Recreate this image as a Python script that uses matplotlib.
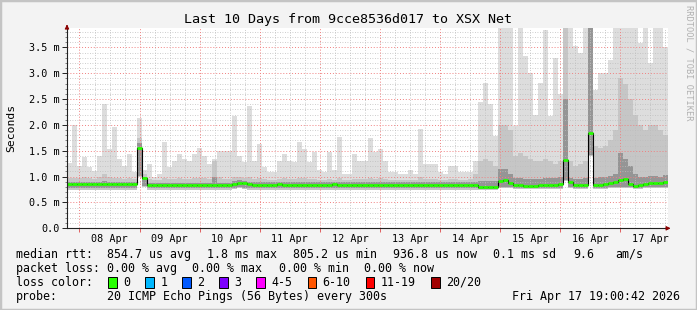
import numpy as np
import matplotlib
matplotlib.use('Agg')
import matplotlib.pyplot as plt
import matplotlib.dates as mdates
from matplotlib.patches import Rectangle

# ---------------- data ----------------
title = "Last 10 Days from 9cce8536d017 to XSX Net"
start = np.datetime64('2026-04-07T19:00:42')
end = np.datetime64('2026-04-17T19:00:42')
step_hours = 2  # 120 bins of 2 h

median_ms = [
    0.85, 0.85, 0.85, 0.85, 0.85, 0.85, 0.85, 0.85, 0.85, 0.85,
    0.85, 0.85, 0.85, 0.85, 1.56, 0.98, 0.83, 0.83, 0.83, 0.83,
    0.83, 0.83, 0.83, 0.83, 0.83, 0.83, 0.83, 0.83, 0.83, 0.83,
    0.83, 0.83, 0.83, 0.86, 0.88, 0.87, 0.85, 0.84, 0.84, 0.84,
    0.84, 0.84, 0.85, 0.84, 0.84, 0.84, 0.83, 0.84, 0.84, 0.84,
    0.84, 0.84, 0.84, 0.85, 0.84, 0.84, 0.84, 0.84, 0.84, 0.84,
    0.84, 0.84, 0.84, 0.84, 0.84, 0.84, 0.84, 0.84, 0.84, 0.84,
    0.84, 0.84, 0.84, 0.84, 0.84, 0.84, 0.84, 0.84, 0.84, 0.84,
    0.84, 0.84, 0.80, 0.80, 0.80, 0.80, 0.92, 0.93, 0.88, 0.83,
    0.83, 0.82, 0.82, 0.82, 0.83, 0.84, 0.84, 0.84, 0.85, 1.33,
    0.90, 0.83, 0.83, 0.83, 1.85, 0.83, 0.84, 0.85, 0.87, 0.90,
    0.94, 0.95, 0.86, 0.82, 0.84, 0.86, 0.88, 0.88, 0.87, 0.90,
]

smoke_max = [
    1.27, 2.00, 1.21, 1.37, 1.18, 1.10, 1.40, 2.40, 1.53, 1.95,
    1.34, 1.20, 1.43, 1.08, 2.14, 1.12, 1.24, 0.99, 1.05, 1.66,
    1.18, 1.30, 1.43, 1.34, 1.31, 1.43, 1.56, 1.40, 1.24, 1.34,
    1.50, 1.50, 1.50, 2.17, 1.40, 1.28, 2.37, 1.31, 1.63, 1.18,
    1.08, 1.08, 1.31, 1.43, 1.31, 1.28, 1.66, 1.53, 1.28, 1.47,
    1.12, 1.08, 1.47, 1.12, 1.76, 1.05, 1.05, 1.43, 1.31, 1.31,
    1.74, 1.47, 1.53, 1.31, 1.08, 1.08, 1.05, 1.05, 1.12, 1.05,
    1.93, 1.24, 1.24, 1.24, 1.08, 1.05, 1.21, 1.21, 1.08, 1.08,
    1.08, 1.31, 2.44, 2.81, 2.40, 1.79, 3.88, 3.88, 3.88, 1.98,
    3.88, 3.33, 3.00, 2.20, 2.81, 3.84, 2.17, 3.30, 2.60, 3.88,
    3.88, 3.52, 3.40, 3.88, 3.88, 2.68, 3.00, 3.00, 3.26, 3.88,
    3.88, 3.88, 3.88, 3.88, 3.58, 3.88, 3.20, 3.88, 3.88, 3.50,
]

smoke_mid = [
    0.98, 0.98, 0.97, 1.00, 0.97, 0.96, 1.00, 1.05, 1.00, 0.98,
    0.97, 0.96, 0.97, 0.95, 1.75, 1.05, 0.95, 0.94, 0.94, 0.97,
    0.95, 0.96, 0.97, 0.96, 0.95, 0.97, 0.98, 0.97, 0.95, 1.30,
    1.00, 0.96, 0.95, 1.00, 1.00, 0.97, 1.00, 0.96, 0.98, 0.95,
    0.94, 0.94, 0.96, 0.97, 0.96, 0.95, 0.98, 0.97, 0.95, 0.96,
    0.94, 0.94, 0.96, 0.94, 0.98, 0.93, 0.93, 0.96, 0.95, 0.95,
    0.98, 0.96, 0.97, 0.95, 0.94, 0.94, 0.93, 0.93, 0.94, 0.93,
    1.00, 0.95, 0.95, 0.95, 0.94, 0.94, 0.96, 0.96, 0.94, 0.94,
    0.95, 1.05, 1.30, 1.35, 1.30, 1.20, 2.00, 2.00, 1.90, 1.40,
    1.45, 1.40, 1.35, 1.30, 1.30, 1.35, 1.30, 1.25, 1.30, 3.88,
    1.30, 1.20, 1.25, 1.30, 3.88, 1.60, 1.55, 1.60, 1.70, 1.90,
    2.90, 2.80, 2.50, 2.20, 2.00, 1.90, 2.00, 2.00, 1.90, 1.80,
]

smoke_dark = [
    0.90, 0.90, 0.89, 0.90, 0.90, 0.89, 0.90, 0.91, 0.90, 0.90,
    0.90, 0.89, 0.90, 0.89, 1.65, 1.00, 0.88, 0.88, 0.88, 0.88,
    0.88, 0.88, 0.88, 0.88, 0.88, 0.88, 0.88, 0.88, 0.88, 1.00,
    0.88, 0.88, 0.88, 0.91, 0.93, 0.92, 0.90, 0.89, 0.89, 0.89,
    0.89, 0.89, 0.89, 0.89, 0.89, 0.89, 0.89, 0.89, 0.89, 0.89,
    0.89, 0.89, 0.89, 0.89, 0.89, 0.89, 0.89, 0.89, 0.89, 0.89,
    0.89, 0.89, 0.89, 0.89, 0.89, 0.89, 0.89, 0.89, 0.89, 0.89,
    0.89, 0.89, 0.89, 0.89, 0.89, 0.89, 0.89, 0.89, 0.89, 0.89,
    0.89, 0.89, 0.92, 0.92, 0.92, 0.92, 1.15, 1.15, 1.05, 0.98,
    0.98, 0.96, 0.96, 0.96, 0.96, 0.97, 0.97, 0.97, 0.99, 2.50,
    0.98, 0.96, 0.96, 0.97, 3.88, 0.98, 0.99, 1.00, 1.02, 1.05,
    1.45, 1.35, 1.20, 1.05, 1.00, 1.00, 1.02, 1.02, 1.00, 1.03,
]

smoke_min = [
    0.75, 0.75, 0.75, 0.75, 0.75, 0.75, 0.75, 0.75, 0.75, 0.75,
    0.75, 0.75, 0.75, 0.75, 1.00, 0.80, 0.75, 0.75, 0.75, 0.75,
    0.75, 0.75, 0.75, 0.75, 0.75, 0.75, 0.75, 0.75, 0.75, 0.75,
    0.75, 0.75, 0.75, 0.76, 0.77, 0.76, 0.75, 0.75, 0.75, 0.75,
    0.75, 0.75, 0.75, 0.75, 0.75, 0.75, 0.75, 0.75, 0.75, 0.75,
    0.75, 0.75, 0.75, 0.75, 0.75, 0.75, 0.75, 0.75, 0.75, 0.75,
    0.75, 0.75, 0.75, 0.75, 0.75, 0.75, 0.75, 0.75, 0.75, 0.75,
    0.75, 0.75, 0.75, 0.75, 0.75, 0.75, 0.75, 0.75, 0.75, 0.75,
    0.75, 0.75, 0.74, 0.74, 0.74, 0.74, 0.78, 0.78, 0.77, 0.76,
    0.76, 0.76, 0.76, 0.76, 0.76, 0.76, 0.76, 0.76, 0.76, 0.92,
    0.78, 0.76, 0.76, 0.76, 1.40, 0.76, 0.76, 0.76, 0.77, 0.77,
    0.78, 0.78, 0.77, 0.76, 0.76, 0.77, 0.77, 0.77, 0.77, 0.78,
]

stats_rtt = ["854.7 us avg", "1.8 ms max", "805.2 us min", "936.8 us now",
             "0.1 ms sd", "9.6", "am/s"]
stats_loss = ["0.00 % avg", "0.00 % max", "0.00 % min", "0.00 % now"]
loss_labels = ['0', '1', '2', '3', '4-5', '6-10', '11-19', '20/20']
loss_colors = ['#26ff00', '#00b8ff', '#0059ff', '#7e00ff', '#ff00ff',
               '#ff5500', '#ff0000', '#a10000']
probe_text = "20 ICMP Echo Pings (56 Bytes) every 300s"
stamp_text = "Fri Apr 17 19:00:42 2026"
y_ticks = [0.0, 0.5, 1.0, 1.5, 2.0, 2.5, 3.0, 3.5]

# ---------------- figure ----------------
W, H = 697, 310
MONO = 'DejaVu Sans Mono'
fig = plt.figure(figsize=(W / 100, H / 100), dpi=100, facecolor='#f3f3f3')


def fx(px):
    return px / W


def fy(py):
    return 1 - py / H


ax_left, ax_right, ax_top, ax_bot = 67, 668, 27.7, 228.3
ax = fig.add_axes([fx(ax_left), fy(ax_bot), (ax_right - ax_left) / W,
                   (ax_bot - ax_top) / H])
ax.set_facecolor('white')

n = len(median_ms)
edges = start + np.arange(n + 1) * np.timedelta64(step_hours, 'h')


def ext(a):
    a = np.asarray(a, dtype=float)
    return np.append(a, a[-1])


lo = ext(smoke_min)
ax.fill_between(edges, lo, ext(smoke_max), step='post', color='#dddddd', lw=0, zorder=1)
ax.fill_between(edges, lo, ext(smoke_mid), step='post', color='#c6c6c6', lw=0, zorder=2)
ax.fill_between(edges, lo + 0.02, ext(smoke_dark), step='post', color='#959595', lw=0, zorder=3)

# grid (drawn above the smoke like rrdtool)
ymax = 3.88
for v in np.arange(1, 39) / 10:
    if abs(v * 2 - round(v * 2)) < 1e-6:
        ax.axhline(v, color='#f08080', lw=0.7, ls=(0, (1, 2)), zorder=4)
    else:
        ax.axhline(v, color='#bdbdbd', lw=0.6, ls=(0, (1, 2)), zorder=4)
t = np.datetime64('2026-04-07T00:00:00')
while t < end:
    if t > start:
        hour = int((t - np.datetime64(str(t)[:10])).astype('timedelta64[h]').astype(int))
        if hour == 0:
            ax.axvline(t, color='#f08080', lw=0.7, ls=(0, (1, 2)), zorder=4)
        else:
            ax.axvline(t, color='#bdbdbd', lw=0.6, ls=(0, (1, 2)), zorder=4)
    t = t + np.timedelta64(6, 'h')

# median line
ax.step(edges, ext(median_ms), where='post', color='black', lw=0.8, zorder=5)
ax.hlines(median_ms, edges[:-1], edges[1:], colors=loss_colors[0], lw=2.0, zorder=6)

ax.set_xlim(start, end)
ax.set_ylim(0, ymax)

# axes styling
for s in ['top', 'right']:
    ax.spines[s].set_visible(False)
for s in ['left', 'bottom']:
    ax.spines[s].set_color('#222222')
    ax.spines[s].set_linewidth(0.8)
    ax.spines[s].set_zorder(7)

ax.set_yticks(y_ticks)
ax.set_yticklabels(['0.0' if v == 0 else f'{v:.1f} m' for v in y_ticks],
                   fontfamily=MONO, fontsize=7.3)
ax.set_yticks(np.arange(0, 39) / 10, minor=True)
ax.tick_params(axis='y', which='major', length=3.5, width=0.7, pad=1.5, color='#222222')
ax.tick_params(axis='y', which='minor', length=1.5, width=0.5, color='#555555')

ax.xaxis.set_major_locator(mdates.HourLocator(byhour=[0]))
ax.xaxis.set_major_formatter(plt.NullFormatter())
ax.xaxis.set_minor_locator(mdates.HourLocator(byhour=[12]))
ax.xaxis.set_minor_formatter(mdates.DateFormatter('%d %b'))
ax.tick_params(axis='x', which='major', length=3, width=0.7, color='#e06060')
ax.tick_params(axis='x', which='minor', length=0, pad=4)
for lab in ax.xaxis.get_minorticklabels():
    lab.set_fontfamily(MONO)
    lab.set_fontsize(7.3)

# arrows on axes
ax.annotate('', xy=(0, 1.03), xytext=(0, 0.99), xycoords='axes fraction',
            arrowprops=dict(arrowstyle='-|>', color='#8b0000', lw=0.8, mutation_scale=6),
            annotation_clip=False, zorder=8)
ax.annotate('', xy=(1.009, 0), xytext=(0.995, 0), xycoords='axes fraction',
            arrowprops=dict(arrowstyle='-|>', color='#8b0000', lw=0.8, mutation_scale=6),
            annotation_clip=False, zorder=8)

# titles
fig.text(fx(348.5), fy(19), title, ha='center', va='center', fontfamily=MONO, fontsize=9.6)
fig.text(fx(11), fy(128), 'Seconds', rotation=90, ha='center', va='center',
         fontfamily=MONO, fontsize=8.2)
fig.text(fx(689), fy(5), 'RRDTOOL / TOBI OETIKER', rotation=270, ha='center', va='top',
         fontfamily=MONO, fontsize=6.2, color='#b0b0b0')

# legend area
FS = 8.4
rows_y = [254.3, 268.3, 282.3, 296.3]
fig.text(fx(15.5), fy(rows_y[0]), 'median rtt:', va='center', fontfamily=MONO, fontsize=FS)
for txt, px in zip(stats_rtt, [107, 207, 293, 393, 493, 573, 615]):
    fig.text(fx(px), fy(rows_y[0]), txt, va='center', fontfamily=MONO, fontsize=FS)
fig.text(fx(15.5), fy(rows_y[1]), 'packet loss:', va='center', fontfamily=MONO, fontsize=FS)
for txt, px in zip(stats_loss, [107, 192.4, 278.7, 364.4]):
    fig.text(fx(px), fy(rows_y[1]), txt, va='center', fontfamily=MONO, fontsize=FS)
fig.text(fx(15.5), fy(rows_y[2]), 'loss color:', va='center', fontfamily=MONO, fontsize=FS)
box_x = [108, 145.3, 182.2, 219.1, 256.4, 307.6, 365.8, 431.1]
for lab, col, bx in zip(loss_labels, loss_colors, box_x):
    fig.patches.append(Rectangle((fx(bx), fy(rows_y[2] + 5.5)), 8.5 / W, 11 / H,
                                 transform=fig.transFigure, facecolor=col,
                                 edgecolor='black', lw=0.7))
    fig.text(fx(bx + 15), fy(rows_y[2]), lab, va='center', fontfamily=MONO, fontsize=FS)
fig.text(fx(15.5), fy(rows_y[3]), 'probe:', va='center', fontfamily=MONO, fontsize=FS)
fig.text(fx(107), fy(rows_y[3]), probe_text, va='center', fontfamily=MONO, fontsize=FS)
fig.text(fx(680), fy(rows_y[3]), stamp_text, ha='right', va='center', fontfamily=MONO, fontsize=FS)

# image border
fig.patches.append(Rectangle((0, 0), 1, 1, transform=fig.transFigure, fill=False,
                             edgecolor='#c4c4c4', lw=2.5))

fig.savefig('out.png', dpi=100, facecolor=fig.get_facecolor())
